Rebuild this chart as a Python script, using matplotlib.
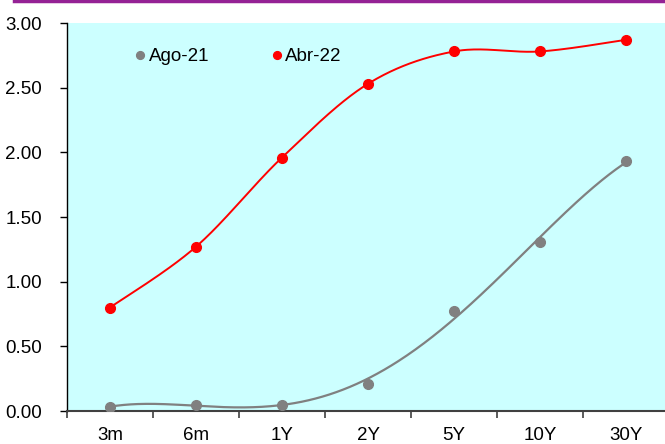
import numpy as np
import matplotlib
matplotlib.use("Agg")
import matplotlib.pyplot as plt
from matplotlib.lines import Line2D

plt.rcParams['font.family'] = ['Liberation Sans', 'DejaVu Sans']

categories = ["3m", "6m", "1Y", "2Y", "5Y", "10Y", "30Y"]
ago21 = [0.03, 0.05, 0.05, 0.21, 0.77, 1.31, 1.93]
abr22 = [0.80, 1.27, 1.96, 2.53, 2.78, 2.78, 2.87]
yticks = [0.0, 0.5, 1.0, 1.5, 2.0, 2.5, 3.0]


def smooth_bezier(x, y, n=40):
    # Excel-like smoothed line (Catmull-Rom with tension 1/6)
    x = np.asarray(x, float); y = np.asarray(y, float)
    P = np.column_stack([x, y])
    out = []
    for i in range(len(P) - 1):
        p0 = P[i - 1] if i > 0 else P[i]
        p1 = P[i]; p2 = P[i + 1]
        p3 = P[i + 2] if i + 2 < len(P) else P[i + 1]
        c1 = p1 + (p2 - p0) / 6.0
        c2 = p2 - (p3 - p1) / 6.0
        t = np.linspace(0, 1, n)[:, None]
        seg = (1 - t) ** 3 * p1 + 3 * (1 - t) ** 2 * t * c1 + 3 * (1 - t) * t ** 2 * c2 + t ** 3 * p2
        out.append(seg if i == 0 else seg[1:])
    s = np.vstack(out)
    return s[:, 0], s[:, 1]


fig = plt.figure(figsize=(6.65, 4.44), dpi=100)
ax = fig.add_axes([67 / 665, 1 - 411 / 444, 602 / 665, 388 / 444])
ax.set_facecolor('#CCFFFF')

xs = np.arange(len(categories))

# Ago-21: polynomial trendline through the points
coef = np.polyfit(xs, ago21, 4)
xf = np.linspace(0, len(categories) - 1, 300)
ax.plot(xf, np.polyval(coef, xf), color='#808080', lw=1.6, zorder=2)
ax.plot(xs, ago21, 'o', color='#808080', ms=7, zorder=3, label='Ago-21')

# Abr-22: smoothed line
bx, by = smooth_bezier(xs, abr22)
ax.plot(bx, by, color='#FF0000', lw=1.4, zorder=2)
ax.plot(xs, abr22, 'o', color='#FF0000', ms=7, zorder=3, label='Abr-22')

ax.set_xlim(-0.5, len(categories) - 0.5)
ax.set_ylim(0, 3.0)
ax.set_yticks(yticks)
ax.set_yticklabels([f"{v:.2f}" for v in yticks])
ax.set_xticks(xs)
ax.set_xticklabels(categories)
ax.set_xticks(np.arange(len(categories) + 1) - 0.5, minor=True)

ax.tick_params(axis='x', which='major', length=0, pad=11.5, labelsize=13.5, colors='black')
ax.tick_params(axis='x', which='minor', length=5, width=1.2, color='#404040', direction='out')
ax.tick_params(axis='y', which='major', length=5, width=1.0, pad=13, labelsize=13.5, direction='out')

for s in ['top', 'right']:
    ax.spines[s].set_visible(False)
ax.spines['left'].set_color('black')
ax.spines['left'].set_linewidth(1.0)
ax.spines['bottom'].set_color('#404040')
ax.spines['bottom'].set_linewidth(1.5)

ax.legend(loc='upper left', bbox_to_anchor=(0.1, 0.955), ncol=2, frameon=False,
          fontsize=13.5, handlelength=0.6, handletextpad=0.15, columnspacing=3.3,
          markerscale=0.8, borderaxespad=0)

fig.add_artist(Line2D([14 / 665, 1.0], [1 - 1.5 / 444, 1 - 1.5 / 444], color='#952295', lw=2.5,
                      transform=fig.transFigure))

fig.savefig('out.png', dpi=100)
